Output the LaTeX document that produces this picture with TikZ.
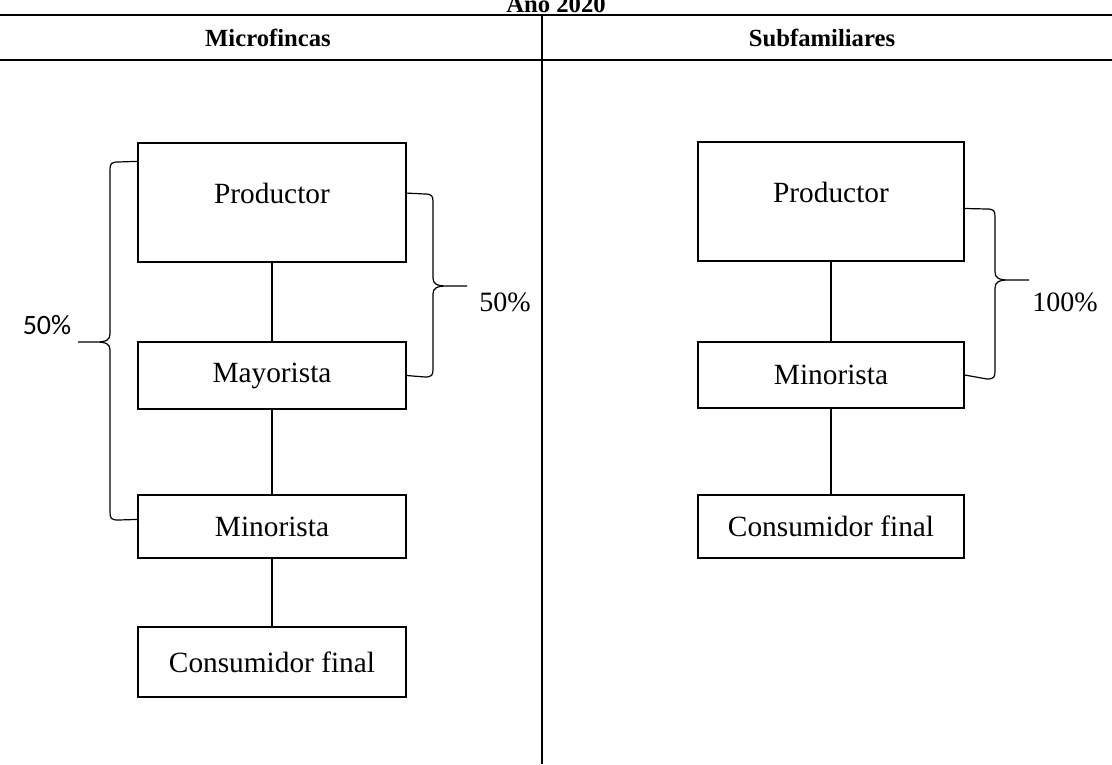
\documentclass[tikz,border=0pt]{standalone}
\usepackage{fontspec}
\setmainfont{Liberation Serif}
\newfontfamily\calfont{Carlito}

\tikzset{
  caja/.style={draw, line width=0.9pt, inner sep=0pt, font=\fontsize{22}{26}\selectfont},
  regla/.style={line width=1.4pt},
  llave/.style={line width=0.9pt},
  encabezado/.style={font=\fontsize{18.5}{22}\selectfont\bfseries},
  pct/.style={font=\fontsize{21}{25}\selectfont}
}

\begin{document}
\begin{tikzpicture}[x=0.75pt,y=-0.75pt]
\useasboundingbox (0,0) rectangle (1112,764);

% table head
\node[encabezado, anchor=base] (anio) at (556,12) {Año 2020};
\draw[regla] (0,15) -- (1112,15);
\draw[regla] (0,60) -- (1112,60);
\draw[regla] (542,15) -- (542,764);
\node[encabezado] (micro) at (268,38) {Microfincas};
\node[encabezado] (subfam) at (822,38) {Subfamiliares};

% microfincas
\node[caja, minimum width=201pt, minimum height=89.25pt, text depth=14pt] (prodA) at (272,202.5) {Productor};
\node[caja, minimum width=201pt, minimum height=50.25pt] (mayA) at (272,375.5) {Mayorista};
\node[caja, minimum width=201pt, minimum height=47.25pt] (minA) at (272,526.5) {Minorista};
\node[caja, minimum width=201pt, minimum height=52.5pt] (conA) at (272,662) {Consumidor final};

\draw[line width=0.9pt] (prodA) -- (mayA);
\draw[line width=0.9pt] (mayA) -- (minA);
\draw[line width=0.9pt] (minA) -- (conA);

% subfamiliares
\node[caja, minimum width=199.5pt, minimum height=89.25pt, text depth=14pt] (prodB) at (831,201.5) {Productor};
\node[caja, minimum width=199.5pt, minimum height=49.5pt] (minB) at (831,375) {Minorista};
\node[caja, minimum width=199.5pt, minimum height=47.25pt] (conB) at (831,526.5) {Consumidor final};

\draw[line width=0.9pt] (prodB) -- (minB);
\draw[line width=0.9pt] (minB) -- (conB);

% llaves
\coordinate (puntaA) at (78,342);
\coordinate (puntaB) at (467,286);
\coordinate (puntaC) at (1029,280);

\draw[llave] (prodA.163) -- (118,162) .. controls (111,162) and (110,164) .. (110,170)
  -- (110,334) .. controls (110,340) and (106,342) .. (96,342) -- (puntaA)
  (96,342) .. controls (106,342) and (110,344) .. (110,350)
  -- (110,512) .. controls (110,518) and (111,520) .. (118,520) -- (minA.177);

\draw[llave] (prodA.4) -- (425,194) .. controls (432,194) and (433,196) .. (433,202)
  -- (433,278) .. controls (433,284) and (437,286) .. (447,286) -- (puntaB)
  (447,286) .. controls (437,286) and (433,288) .. (433,294)
  -- (433,369) .. controls (433,375) and (432,377) .. (425,377) -- (mayA.east);

\draw[llave] (prodB.-3) -- (987,209) .. controls (994,209) and (995,211) .. (995,217)
  -- (995,272) .. controls (995,278) and (999,280) .. (1009,280) -- (puntaC)
  (1009,280) .. controls (999,280) and (995,282) .. (995,288)
  -- (995,371) .. controls (995,377) and (994,379) .. (987,379) -- (minB.east);

\node[pct, font=\calfont\fontsize{21}{25}\selectfont] (pctA) at (47,325) {50\%};
\node[pct] (pctB) at (505,302) {50\%};
\node[pct] (pctC) at (1065,302) {100\%};

\end{tikzpicture}
\end{document}
